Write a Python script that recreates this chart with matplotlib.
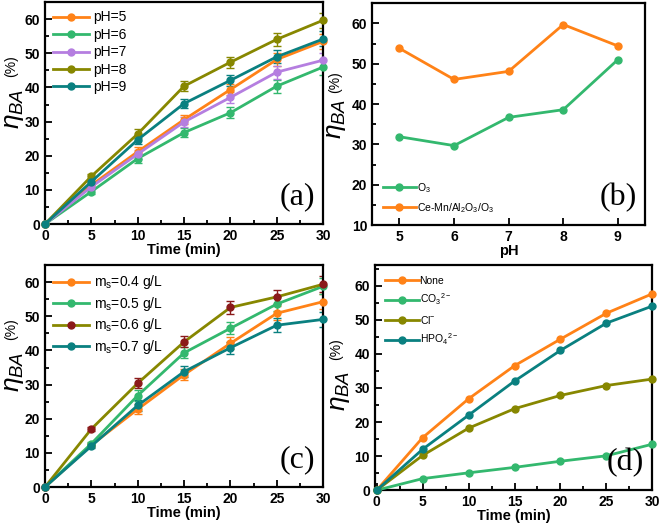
from matplotlib import pyplot as plt
from matplotlib.ticker import MultipleLocator
import numpy as np

plt.rcParams['font.family'] = ['Liberation Sans', 'DejaVu Sans']
plt.rcParams['mathtext.fontset'] = 'custom'
plt.rcParams['mathtext.rm'] = 'Liberation Sans'
plt.rcParams['mathtext.it'] = 'Liberation Sans:italic'
plt.rcParams['mathtext.bf'] = 'Liberation Sans:bold'

# data
time = [0, 5, 10, 15, 20, 25, 30]

ph_labels = ["pH=5", "pH=6", "pH=7", "pH=8", "pH=9"]
ph5 = [0, 11.4, 21.2, 30.6, 39.4, 48.2, 53.5]
ph6 = [0, 9.5, 19.2, 26.8, 32.6, 40.4, 46.0]
ph7 = [0, 10.9, 20.5, 29.9, 37.1, 44.5, 48.0]
ph8 = [0, 14.0, 26.4, 40.4, 47.4, 54.1, 59.7]
ph9 = [0, 12.4, 24.7, 35.3, 42.1, 49.0, 54.2]
ph_err = [0, 0.8, 1.3, 1.4, 1.6, 1.9, 2.2]

ph_x = [5, 6, 7, 8, 9]
o3_only = [31.9, 29.7, 36.7, 38.6, 51.0]
cat_o3 = [53.8, 46.1, 48.1, 59.7, 54.4]

ms_labels = ["m$_\\mathregular{s}$=0.4 g/L", "m$_\\mathregular{s}$=0.5 g/L",
             "m$_\\mathregular{s}$=0.6 g/L", "m$_\\mathregular{s}$=0.7 g/L"]
ms04 = [0, 12.3, 22.8, 32.9, 42.1, 50.9, 54.3]
ms05 = [0, 12.7, 26.8, 39.3, 46.5, 53.6, 58.8]
ms06 = [0, 17.0, 30.4, 42.5, 52.6, 55.7, 59.4]
ms07 = [0, 12.0, 23.9, 33.8, 40.8, 47.4, 49.1]
ms_err = [0, 0.5, 1.5, 1.6, 1.8, 2.1, 2.3]

ion_labels = ["None", "CO$_3$$^{2-}$", "Cl$^{-}$", "HPO$_4$$^{2-}$"]
none = [0, 15.4, 26.8, 36.5, 44.3, 51.9, 57.6]
co3 = [0, 3.4, 5.1, 6.7, 8.5, 10.1, 13.5]
cl = [0, 10.2, 18.2, 23.9, 27.8, 30.7, 32.6]
hpo4 = [0, 12.0, 22.0, 32.0, 41.0, 49.0, 54.0]

orange = '#FF8217'
green = '#33B86E'
violet = '#B57EE0'
olive = '#878700'
teal = '#0A8080'
darkred = '#8B1A1A'


def style_axis(ax, label, eta_pos, pct_pos):
    for sp in ax.spines.values():
        sp.set_linewidth(1.6)
    ax.tick_params(which='both', direction='in', top=False, right=False, width=1.3)
    ax.tick_params(which='major', length=5, labelsize=10)
    ax.tick_params(which='minor', length=3)
    for t in ax.get_xticklabels() + ax.get_yticklabels():
        t.set_fontweight('bold')
    ax.text(0.97, 0.06, label, transform=ax.transAxes, ha='right', va='bottom',
            fontsize=23, family='Liberation Serif')
    # y label: eta_BA with (%) raised after it
    ax.text(eta_pos[0], eta_pos[1], r'$\eta_{BA}$', transform=ax.transAxes,
            rotation=90, ha='center', va='center', fontsize=19)
    ax.text(pct_pos[0], pct_pos[1], '(%)', transform=ax.transAxes,
            rotation=90, ha='center', va='center', fontsize=10)


def line(ax, y, color, label, err=None, mcolor=None):
    mc = mcolor or color
    ax.plot(time, y, '-', color=color, lw=2, label=label, marker='o', ms=5,
            mfc=mc, mec=mc, clip_on=False, zorder=3)
    if err is not None:
        ax.errorbar(time, y, yerr=err, fmt='none', ecolor=mc, elinewidth=1,
                    capsize=3, capthick=1, zorder=2)


fig = plt.figure(figsize=(6.61, 5.26), dpi=100)

# (a)
ax1 = fig.add_axes([0.068, 0.574, 0.421, 0.422])
for y, c, lb in zip([ph5, ph6, ph7, ph8, ph9], [orange, green, violet, olive, teal], ph_labels):
    line(ax1, y, c, lb, ph_err)
ax1.set_xlim(0, 30)
ax1.set_ylim(0, 65)
ax1.xaxis.set_major_locator(MultipleLocator(5))
ax1.xaxis.set_minor_locator(MultipleLocator(2.5))
ax1.yaxis.set_major_locator(MultipleLocator(10))
ax1.yaxis.set_minor_locator(MultipleLocator(5))
ax1.set_xlabel('Time (min)', fontsize=10.5, fontweight='bold', labelpad=0)
ax1.legend(loc='upper left', frameon=False, fontsize=10, handlelength=2.6,
           labelspacing=0.25, borderaxespad=0.2, handletextpad=0.3)
style_axis(ax1, '(a)', (-0.112, 0.52), (-0.120, 0.71))

# (b)
ax2 = fig.add_axes([0.563, 0.572, 0.413, 0.422])
ax2.plot(ph_x, o3_only, '-o', color=green, lw=2, ms=5, label='O$_3$')
ax2.plot(ph_x, cat_o3, '-o', color=orange, lw=2, ms=5, label='Ce-Mn/Al$_2$O$_3$/O$_3$')
ax2.set_xlim(4.5, 9.5)
ax2.set_ylim(10, 65)
ax2.xaxis.set_major_locator(MultipleLocator(1))
ax2.yaxis.set_major_locator(MultipleLocator(10))
ax2.yaxis.set_minor_locator(MultipleLocator(5))
ax2.set_xlabel('pH', fontsize=10.5, fontweight='bold', labelpad=0)
ax2.legend(loc='lower left', frameon=False, fontsize=7.5, handlelength=3.2,
           labelspacing=0.6, borderaxespad=0.6, handletextpad=0.1)
style_axis(ax2, '(b)', (-0.134, 0.48), (-0.136, 0.645))

# (c)
ax3 = fig.add_axes([0.068, 0.074, 0.421, 0.422])
line(ax3, ms04, orange, ms_labels[0], ms_err)
line(ax3, ms05, green, ms_labels[1], ms_err)
line(ax3, ms06, olive, ms_labels[2], ms_err, mcolor=darkred)
line(ax3, ms07, teal, ms_labels[3], ms_err)
ax3.set_xlim(0, 30)
ax3.set_ylim(0, 65)
ax3.xaxis.set_major_locator(MultipleLocator(5))
ax3.xaxis.set_minor_locator(MultipleLocator(2.5))
ax3.yaxis.set_major_locator(MultipleLocator(10))
ax3.yaxis.set_minor_locator(MultipleLocator(5))
ax3.set_xlabel('Time (min)', fontsize=10.5, fontweight='bold', labelpad=0)
ax3.legend(loc='upper left', frameon=False, fontsize=10, handlelength=2.6,
           labelspacing=0.25, borderaxespad=0.2, handletextpad=0.3)
style_axis(ax3, '(c)', (-0.112, 0.52), (-0.120, 0.71))

# (d)
ax4 = fig.add_axes([0.567, 0.068, 0.420, 0.428])
for y, c, lb in zip([none, co3, cl, hpo4], [orange, green, olive, teal], ion_labels):
    line(ax4, y, c, lb)
ax4.set_xlim(-0.2, 30)
ax4.set_ylim(0, 66)
ax4.xaxis.set_major_locator(MultipleLocator(5))
ax4.xaxis.set_minor_locator(MultipleLocator(2.5))
ax4.yaxis.set_major_locator(MultipleLocator(10))
ax4.yaxis.set_minor_locator(MultipleLocator(5))
ax4.set_xlabel('Time (min)', fontsize=10.5, fontweight='bold', labelpad=0)
ax4.legend(loc='upper left', frameon=False, fontsize=7.5, handlelength=3.2,
           labelspacing=0.6, borderaxespad=0.6, handletextpad=0.1)
style_axis(ax4, '(d)', (-0.127, 0.44), (-0.138, 0.625))

plt.savefig('out.png', dpi=100)
